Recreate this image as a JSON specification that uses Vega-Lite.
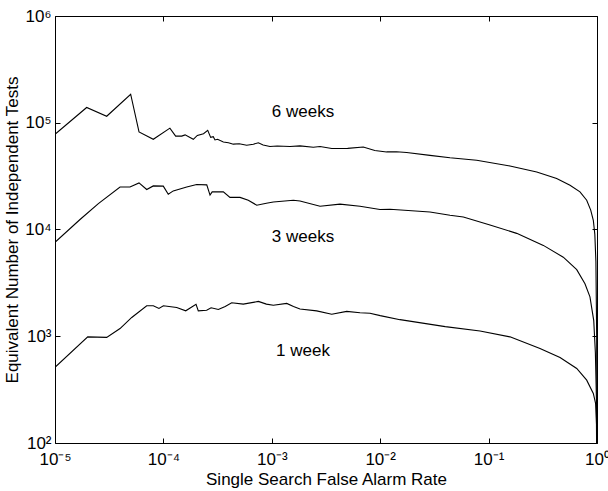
{
  "$schema": "https://vega.github.io/schema/vega-lite/v6.json",
  "width": 542,
  "height": 427,
  "autosize": "none",
  "padding": {"left": 55, "top": 16, "right": 11, "bottom": 48},
  "background": "white",
  "config": {
    "view": {"stroke": "black", "strokeWidth": 1},
    "font": "Liberation Sans",
    "axis": {
      "grid": false,
      "domain": false,
      "ticks": true,
      "tickSize": -5,
      "tickColor": "black",
      "tickWidth": 1,
      "labelFont": "Liberation Sans",
      "labelFontSize": 17,
      "labelColor": "black",
      "titleFont": "Liberation Sans",
      "titleFontSize": 17,
      "titleFontWeight": "normal",
      "titleColor": "black"
    }
  },
  "datasets": {
    "curves": [
      {"series": "6 weeks", "x": 1e-5, "y": 78000},
      {"series": "6 weeks", "x": 1.959e-5, "y": 139000},
      {"series": "6 weeks", "x": 2.999e-5, "y": 115000},
      {"series": "6 weeks", "x": 4.989e-5, "y": 185000},
      {"series": "6 weeks", "x": 5.957e-5, "y": 82000},
      {"series": "6 weeks", "x": 8.07e-5, "y": 70000},
      {"series": "6 weeks", "x": 1.148e-4, "y": 89000},
      {"series": "6 weeks", "x": 1.297e-4, "y": 75000},
      {"series": "6 weeks", "x": 1.476e-4, "y": 75000},
      {"series": "6 weeks", "x": 1.585e-4, "y": 77000},
      {"series": "6 weeks", "x": 1.888e-4, "y": 70000},
      {"series": "6 weeks", "x": 2.056e-4, "y": 76000},
      {"series": "6 weeks", "x": 2.344e-4, "y": 79000},
      {"series": "6 weeks", "x": 2.564e-4, "y": 85000},
      {"series": "6 weeks", "x": 2.729e-4, "y": 73000},
      {"series": "6 weeks", "x": 2.884e-4, "y": 74000},
      {"series": "6 weeks", "x": 2.992e-4, "y": 69000},
      {"series": "6 weeks", "x": 3.162e-4, "y": 70000},
      {"series": "6 weeks", "x": 3.573e-4, "y": 66000},
      {"series": "6 weeks", "x": 3.981e-4, "y": 65000},
      {"series": "6 weeks", "x": 4.416e-4, "y": 63000},
      {"series": "6 weeks", "x": 5.012e-4, "y": 63500},
      {"series": "6 weeks", "x": 5.861e-4, "y": 61500},
      {"series": "6 weeks", "x": 6.761e-4, "y": 63000},
      {"series": "6 weeks", "x": 7.516e-4, "y": 65000},
      {"series": "6 weeks", "x": 8.318e-4, "y": 62000},
      {"series": "6 weeks", "x": 9.616e-4, "y": 60000},
      {"series": "6 weeks", "x": 1.122e-3, "y": 60500},
      {"series": "6 weeks", "x": 1.472e-3, "y": 60000},
      {"series": "6 weeks", "x": 1.82e-3, "y": 60700},
      {"series": "6 weeks", "x": 2.415e-3, "y": 59000},
      {"series": "6 weeks", "x": 2.786e-3, "y": 60000},
      {"series": "6 weeks", "x": 3.573e-3, "y": 57300},
      {"series": "6 weeks", "x": 5.012e-3, "y": 57500},
      {"series": "6 weeks", "x": 6.982e-3, "y": 59300},
      {"series": "6 weeks", "x": 8.913e-3, "y": 55000},
      {"series": "6 weeks", "x": 1.146e-2, "y": 53300},
      {"series": "6 weeks", "x": 1.413e-2, "y": 53500},
      {"series": "6 weeks", "x": 1.754e-2, "y": 52600},
      {"series": "6 weeks", "x": 2.877e-2, "y": 49500},
      {"series": "6 weeks", "x": 4.406e-2, "y": 47000},
      {"series": "6 weeks", "x": 7.762e-2, "y": 44500},
      {"series": "6 weeks", "x": 0.1574, "y": 39400},
      {"series": "6 weeks", "x": 0.278, "y": 34600},
      {"series": "6 weeks", "x": 0.4246, "y": 30000},
      {"series": "6 weeks", "x": 0.5636, "y": 26000},
      {"series": "6 weeks", "x": 0.6966, "y": 22500},
      {"series": "6 weeks", "x": 0.8035, "y": 18800},
      {"series": "6 weeks", "x": 0.875, "y": 15200},
      {"series": "6 weeks", "x": 0.9247, "y": 12200},
      {"series": "6 weeks", "x": 0.955, "y": 9000},
      {"series": "6 weeks", "x": 0.977, "y": 5000},
      {"series": "6 weeks", "x": 0.9931, "y": 1000},
      {"series": "6 weeks", "x": 0.99931, "y": 50},
      {"series": "3 weeks", "x": 1e-5, "y": 7600},
      {"series": "3 weeks", "x": 1.702e-5, "y": 12400},
      {"series": "3 weeks", "x": 2.512e-5, "y": 17500},
      {"series": "3 weeks", "x": 3.981e-5, "y": 25000},
      {"series": "3 weeks", "x": 4.92e-5, "y": 25000},
      {"series": "3 weeks", "x": 5.957e-5, "y": 27300},
      {"series": "3 weeks", "x": 7.015e-5, "y": 23700},
      {"series": "3 weeks", "x": 8.07e-5, "y": 25600},
      {"series": "3 weeks", "x": 9.977e-5, "y": 25500},
      {"series": "3 weeks", "x": 1.109e-4, "y": 21400},
      {"series": "3 weeks", "x": 1.233e-4, "y": 23000},
      {"series": "3 weeks", "x": 1.641e-4, "y": 25000},
      {"series": "3 weeks", "x": 2.028e-4, "y": 26400},
      {"series": "3 weeks", "x": 2.512e-4, "y": 26200},
      {"series": "3 weeks", "x": 2.692e-4, "y": 21000},
      {"series": "3 weeks", "x": 2.818e-4, "y": 22500},
      {"series": "3 weeks", "x": 3.573e-4, "y": 22500},
      {"series": "3 weeks", "x": 4.111e-4, "y": 20000},
      {"series": "3 weeks", "x": 5.093e-4, "y": 20000},
      {"series": "3 weeks", "x": 6.067e-4, "y": 18800},
      {"series": "3 weeks", "x": 7.261e-4, "y": 16900},
      {"series": "3 weeks", "x": 8.913e-4, "y": 17600},
      {"series": "3 weeks", "x": 1.033e-3, "y": 18100},
      {"series": "3 weeks", "x": 1.581e-3, "y": 18800},
      {"series": "3 weeks", "x": 1.82e-3, "y": 18500},
      {"series": "3 weeks", "x": 2.786e-3, "y": 16500},
      {"series": "3 weeks", "x": 4.256e-3, "y": 17300},
      {"series": "3 weeks", "x": 6.516e-3, "y": 16500},
      {"series": "3 weeks", "x": 9.954e-3, "y": 15400},
      {"series": "3 weeks", "x": 1.23e-2, "y": 15500},
      {"series": "3 weeks", "x": 2.877e-2, "y": 14600},
      {"series": "3 weeks", "x": 4.406e-2, "y": 13600},
      {"series": "3 weeks", "x": 5.848e-2, "y": 13100},
      {"series": "3 weeks", "x": 0.103, "y": 11000},
      {"series": "3 weeks", "x": 0.1816, "y": 9200},
      {"series": "3 weeks", "x": 0.3199, "y": 7100},
      {"series": "3 weeks", "x": 0.4887, "y": 5500},
      {"series": "3 weeks", "x": 0.6501, "y": 4200},
      {"series": "3 weeks", "x": 0.7745, "y": 3100},
      {"series": "3 weeks", "x": 0.861, "y": 2340},
      {"series": "3 weeks", "x": 0.9333, "y": 1400},
      {"series": "3 weeks", "x": 0.9661, "y": 700},
      {"series": "3 weeks", "x": 0.9886, "y": 250},
      {"series": "3 weeks", "x": 0.99885, "y": 30},
      {"series": "1 week", "x": 1e-5, "y": 511},
      {"series": "1 week", "x": 2.004e-5, "y": 986},
      {"series": "1 week", "x": 2.999e-5, "y": 975},
      {"series": "1 week", "x": 3.981e-5, "y": 1180},
      {"series": "1 week", "x": 5.105e-5, "y": 1500},
      {"series": "1 week", "x": 7.015e-5, "y": 1930},
      {"series": "1 week", "x": 8.07e-5, "y": 1930},
      {"series": "1 week", "x": 9.1e-5, "y": 1820},
      {"series": "1 week", "x": 1e-4, "y": 1930},
      {"series": "1 week", "x": 1.327e-4, "y": 1860},
      {"series": "1 week", "x": 1.607e-4, "y": 1730},
      {"series": "1 week", "x": 2.0e-4, "y": 1990},
      {"series": "1 week", "x": 2.099e-4, "y": 1730},
      {"series": "1 week", "x": 2.506e-4, "y": 1750},
      {"series": "1 week", "x": 2.754e-4, "y": 1850},
      {"series": "1 week", "x": 3.214e-4, "y": 1780},
      {"series": "1 week", "x": 3.715e-4, "y": 1900},
      {"series": "1 week", "x": 4.266e-4, "y": 2060},
      {"series": "1 week", "x": 5.458e-4, "y": 2000},
      {"series": "1 week", "x": 7.516e-4, "y": 2120},
      {"series": "1 week", "x": 8.913e-4, "y": 2000},
      {"series": "1 week", "x": 1.033e-3, "y": 1950},
      {"series": "1 week", "x": 1.374e-3, "y": 2030},
      {"series": "1 week", "x": 1.585e-3, "y": 1900},
      {"series": "1 week", "x": 1.82e-3, "y": 1800},
      {"series": "1 week", "x": 2.594e-3, "y": 1730},
      {"series": "1 week", "x": 3.573e-3, "y": 1610},
      {"series": "1 week", "x": 4.909e-3, "y": 1710},
      {"series": "1 week", "x": 6.516e-3, "y": 1660},
      {"series": "1 week", "x": 8.054e-3, "y": 1640},
      {"series": "1 week", "x": 1e-2, "y": 1560},
      {"series": "1 week", "x": 1.524e-2, "y": 1430},
      {"series": "1 week", "x": 3.981e-2, "y": 1230},
      {"series": "1 week", "x": 8.337e-2, "y": 1120},
      {"series": "1 week", "x": 0.1574, "y": 987},
      {"series": "1 week", "x": 0.2979, "y": 769},
      {"series": "1 week", "x": 0.456, "y": 633},
      {"series": "1 week", "x": 0.6501, "y": 499},
      {"series": "1 week", "x": 0.8035, "y": 388},
      {"series": "1 week", "x": 0.9247, "y": 291},
      {"series": "1 week", "x": 0.9705, "y": 235},
      {"series": "1 week", "x": 0.9886, "y": 150},
      {"series": "1 week", "x": 0.9977, "y": 40}
    ],
    "labels": [
      {"label": "6 weeks", "x": 1.94e-3, "y": 125000},
      {"label": "3 weeks", "x": 1.94e-3, "y": 8500},
      {"label": "1 week", "x": 1.94e-3, "y": 725}
    ]
  },
  "layer": [
    {
      "data": {"name": "curves"},
      "mark": {"type": "line", "color": "black", "strokeWidth": 1.1, "clip": true},
      "encoding": {
        "x": {
          "field": "x", "type": "quantitative",
          "scale": {"type": "log", "domain": [1e-5, 1], "nice": false},
          "axis": {
            "orient": "bottom",
            "values": [1e-5, 1e-4, 1e-3, 1e-2, 1e-1, 1],
            "labelExpr": "['10⁻⁵','10⁻⁴','10⁻³','10⁻²','10⁻¹','10⁰'][round(log(datum.value)/LN10)+5]",
            "labelPadding": 13,
            "labelFlush": false,
            "title": "Single Search False Alarm Rate",
            "titlePadding": 4
          }
        },
        "y": {
          "field": "y", "type": "quantitative",
          "scale": {"type": "log", "domain": [100, 1000000], "nice": false},
          "axis": {
            "orient": "left",
            "values": [100, 1000, 10000, 100000, 1000000],
            "labelExpr": "['10²','10³','10⁴','10⁵','10⁶'][round(log(datum.value)/LN10)-2]",
            "labelPadding": 9,
            "labelOffset": 0,
            "labelFlush": false,
            "title": "Equivalent Number of Independent Tests",
            "titlePadding": 3
          }
        },
        "detail": {"field": "series"}
      }
    },
    {
      "data": {"name": "labels"},
      "mark": {"type": "text", "fontSize": 17, "font": "Liberation Sans", "color": "black", "align": "center", "baseline": "middle"},
      "encoding": {
        "x": {
          "field": "x", "type": "quantitative",
          "axis": {"orient": "top", "values": [1e-5, 1e-4, 1e-3, 1e-2, 1e-1, 1], "labels": false, "title": null}
        },
        "y": {
          "field": "y", "type": "quantitative",
          "axis": {"orient": "right", "values": [100, 1000, 10000, 100000, 1000000], "labels": false, "title": null}
        },
        "text": {"field": "label"}
      }
    }
  ],
  "resolve": {"axis": {"x": "independent", "y": "independent"}}
}
